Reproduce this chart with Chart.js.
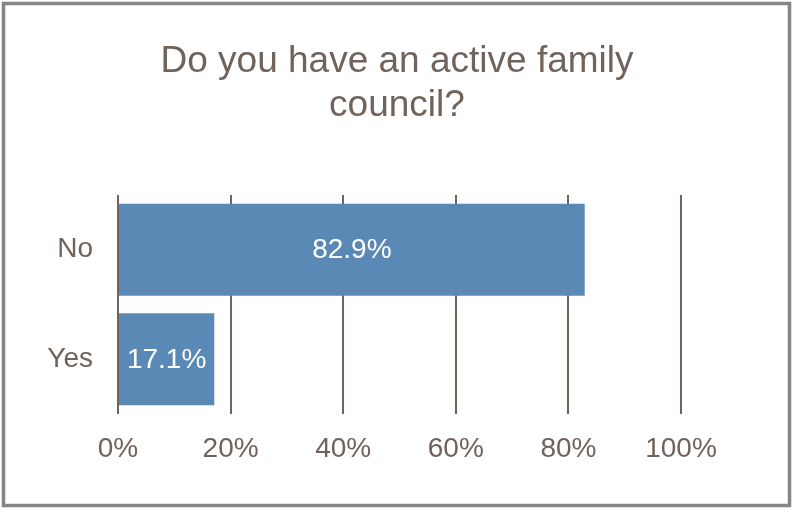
<!DOCTYPE html>
<html>
<head>
<meta charset="utf-8">
<script src="https://cdn.jsdelivr.net/npm/chart.js@4/dist/chart.umd.min.js"></script>
<style>
  html, body { margin: 0; padding: 0; background: #fff; }
  #wrap { width: 792px; height: 508px; position: relative; }
</style>
</head>
<body>
<div id="wrap"><canvas id="councilChart" width="792" height="508"></canvas></div>
<script>
// Survey answers and their shares (percent)
const answers = ['No', 'Yes'];
const shares = [82.9, 17.1];
const axisTicks = [0, 20, 40, 60, 80, 100];
const titleLines = ['Do you have an active family', 'council?'];

const textColor = '#6f635b';
const barColor = '#5b89b5';
const gridColor = '#6f645e';
const fontFamily = '"Liberation Sans", Arial, sans-serif';

// White background, grey frame and the centred two-line heading
const framePlugin = {
    id: 'frame',
    beforeDraw(chart) {
        const c = chart.ctx;
        c.save();
        c.fillStyle = '#ffffff';
        c.fillRect(0, 0, chart.width, chart.height);
        c.strokeStyle = '#858585';
        c.lineWidth = 3.5;
        c.strokeRect(3.5, 3.5, chart.width - 6, chart.height - 6);

        c.fillStyle = textColor;
        c.font = '37px ' + fontFamily;
        c.textAlign = 'center';
        c.textBaseline = 'alphabetic';
        titleLines.forEach((line, i) => {
            c.fillText(line, chart.width / 2 + 1, 72 + i * 44);
        });
        c.restore();
    }
};

// Value labels inside each bar
const barLabels = {
    id: 'barLabels',
    afterDatasetsDraw(chart) {
        const c = chart.ctx;
        const meta = chart.getDatasetMeta(0);
        c.save();
        c.fillStyle = '#ffffff';
        c.font = '28px ' + fontFamily;
        c.textAlign = 'center';
        c.textBaseline = 'middle';
        meta.data.forEach((bar, i) => {
            const cx = (bar.x + bar.base) / 2;
            c.fillText(shares[i].toFixed(1) + '%', cx, bar.y + 1);
        });
        c.restore();
    }
};

new Chart(document.getElementById('councilChart'), {
    type: 'bar',
    data: {
        labels: answers,
        datasets: [{
            data: shares,
            backgroundColor: barColor,
            borderWidth: 0,
            categoryPercentage: 1,
            barPercentage: 0.84
        }]
    },
    options: {
        indexAxis: 'y',
        responsive: false,
        animation: false,
        layout: { padding: { left: 0, right: 111, top: 195, bottom: 0 } },
        plugins: {
            legend: { display: false },
            tooltip: { enabled: false },
            title: { display: false }
        },
        scales: {
            x: {
                min: 0,
                max: 100,
                afterBuildTicks(scale) {
                    scale.ticks = axisTicks.map(v => ({ value: v }));
                },
                afterFit(scale) { scale.height = 94; },
                ticks: {
                    color: textColor,
                    padding: 18,
                    font: { family: fontFamily, size: 28 },
                    callback: v => v + '%'
                },
                grid: { color: gridColor, lineWidth: 2, drawTicks: false },
                border: { display: false }
            },
            y: {
                afterFit(scale) { scale.width = 118; },
                ticks: {
                    color: textColor,
                    padding: 17,
                    font: { family: fontFamily, size: 28 }
                },
                grid: { display: false },
                border: { display: false }
            }
        }
    },
    plugins: [framePlugin, barLabels]
});
</script>
</body>
</html>
